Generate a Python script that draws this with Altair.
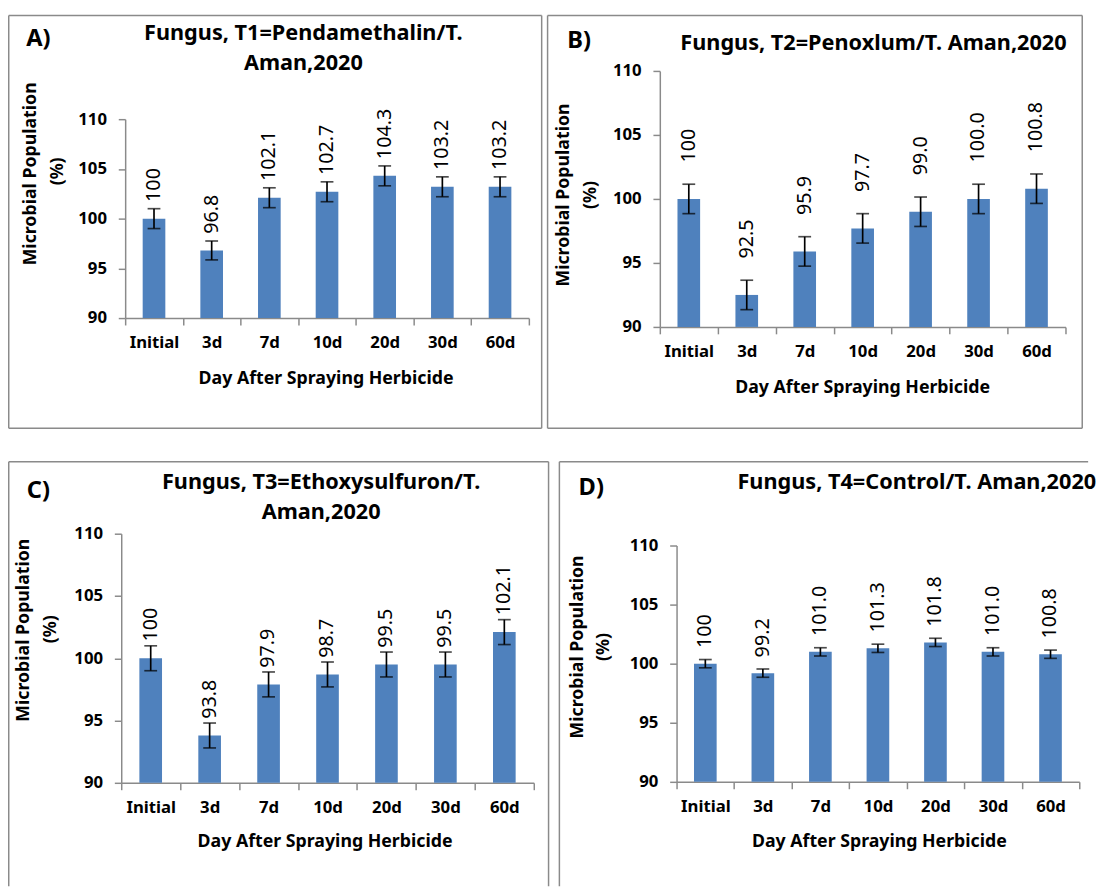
import altair as alt
import pandas as pd

days = ["Initial", "3d", "7d", "10d", "20d", "30d", "60d"]

a_vals = [100, 96.8, 102.1, 102.7, 104.3, 103.2, 103.2]
a_err = [1.0, 0.95, 1.0, 1.0, 1.0, 1.0, 1.0]
a_lbl = ["100", "96.8", "102.1", "102.7", "104.3", "103.2", "103.2"]

b_vals = [100, 92.5, 95.9, 97.7, 99.0, 100.0, 100.8]
b_err = [1.15, 1.15, 1.15, 1.15, 1.15, 1.15, 1.15]
b_lbl = ["100", "92.5", "95.9", "97.7", "99.0", "100.0", "100.8"]

c_vals = [100, 93.8, 97.9, 98.7, 99.5, 99.5, 102.1]
c_err = [1.0, 1.0, 1.0, 1.0, 1.0, 1.0, 1.0]
c_lbl = ["100", "93.8", "97.9", "98.7", "99.5", "99.5", "102.1"]

d_vals = [100, 99.2, 101.0, 101.3, 101.8, 101.0, 100.8]
d_err = [0.35, 0.35, 0.35, 0.35, 0.35, 0.35, 0.35]
d_lbl = ["100", "99.2", "101.0", "101.3", "101.8", "101.0", "100.8"]

titles = {
    "A": ["Fungus, T1=Pendamethalin/T.", "Aman,2020"],
    "B": ["Fungus, T2=Penoxlum/T. Aman,2020"],
    "C": ["Fungus, T3=Ethoxysulfuron/T.", "Aman,2020"],
    "D": ["Fungus, T4=Control/T. Aman,2020"],
}
y_title = ["Microbial Population", "(%)"]
x_title = "Day After Spraying Herbicide"
y_ticks = [90, 95, 100, 105, 110]

FONT = "Noto Sans"
BLUE = "#4F81BD"
GRAY = "#8A8A8A"
W, H = 1097, 885          # whole drawing area
OX, OY = 8, 8             # page offset of the drawing area

TITLE_FS = 22
AXT_FS = 18
TICK_FS = 17
LBL_FS = 20
LET_FS = 24

# layout geometry in page pixels
GEO = {
    "A": dict(px=127, py=114, w=410, h=202, box=(8.75, 550, 8.75, 428), sides="tblr",
              letter=(26.5, 33), tcx=308, tcy=[26.7, 56.7], yt1=(31.8, 169.5), yt2=(59, 167),
              xt=(331, 378), dx=17),
    "B": dict(px=670, py=65, w=412, h=260, box=(556, 1099, 8.75, 428), sides="tblr",
              letter=(576, 35), tcx=887, tcy=[36.7], yt1=(573, 191), yt2=(600, 191),
              xt=(876, 387), dx=37),
    "C": dict(px=123, py=535, w=419, h=253, box=(8.75, 557, 462, 893), sides="tlr",
              letter=(27, 491.7), tcx=326, tcy=[483, 513], yt1=(24, 633), yt2=(52, 632),
              xt=(330, 848), dx=17),
    "D": dict(px=687, py=547, w=409, h=240, box=(568, 1105, 462, 893), sides="tl",
              letter=(587.5, 489), tcx=931, tcy=[482.7], yt1=(587, 650), yt2=(613, 650),
              xt=(893, 848), dx=16),
}


def one(txt):
    return alt.Chart(pd.DataFrame({"t": [txt]}))


def note(txt, x, y, size, weight="bold", angle=0, align="center"):
    kw = dict(font=FONT, fontSize=size, fontWeight=weight, color="black",
              align=align, baseline="middle")
    if angle:
        kw["angle"] = angle
    return one(txt).mark_text(**kw).encode(
        text="t:N", x=alt.value(x - OX), y=alt.value(y - OY))


def box_layers(g):
    x1, x2, y1, y2 = [v - o for v, o in zip(g["box"], (OX, OX, OY, OY))]
    s = g["sides"]
    mk = dict(color=GRAY, strokeWidth=1.5)
    out = []
    if "t" in s:
        out.append(one("t").mark_rule(**mk).encode(x=alt.value(x1), x2=alt.value(x2), y=alt.value(y1)))
    if "b" in s:
        out.append(one("b").mark_rule(**mk).encode(x=alt.value(x1), x2=alt.value(x2), y=alt.value(y2)))
    if "l" in s:
        out.append(one("l").mark_rule(**mk).encode(x=alt.value(x1), y=alt.value(y1), y2=alt.value(y2)))
    if "r" in s:
        out.append(one("r").mark_rule(**mk).encode(x=alt.value(x2), y=alt.value(y1), y2=alt.value(y2)))
    return out


def panel(key, vals, errs, lbls):
    g = GEO[key]
    left = g["px"] - OX
    top = g["py"] - OY
    bottom = top + g["h"]
    df = pd.DataFrame({"day": days, "v": vals, "e": errs, "lbl": lbls})
    xscale = alt.Scale(domain=days, range=[left, left + g["w"]], paddingInner=0, paddingOuter=0)
    yscale = alt.Scale(domain=[90, 110], range=[bottom, top], nice=False, zero=False)
    xenc = alt.X("day:N", sort=days, title=None, scale=xscale,
                 axis=alt.Axis(orient="bottom", offset=bottom - H, labelAngle=0, tickBand="extent",
                               tickSize=7, labelPadding=10,
                               domainColor=GRAY, tickColor=GRAY, domainWidth=1.5, tickWidth=1.5,
                               labelFont=FONT, labelFontSize=TICK_FS, labelFontWeight="bold",
                               labelColor="black"))
    base = alt.Chart(df).transform_calculate(lo="datum.v - datum.e", hi="datum.v + datum.e").encode(x=xenc)
    bars = base.mark_bar(size=23, color=BLUE).encode(
        y=alt.Y("v:Q", scale=yscale, title=None,
                axis=alt.Axis(orient="left", offset=-left, values=y_ticks, grid=False, tickSize=7,
                              labelPadding=12, domainColor=GRAY, tickColor=GRAY,
                              domainWidth=1.5, tickWidth=1.5,
                              labelFont=FONT, labelFontSize=TICK_FS, labelFontWeight="bold",
                              labelColor="black")),
        y2=alt.datum(90))
    rule = base.mark_rule(color="black", strokeWidth=1.7).encode(y=alt.Y("lo:Q", scale=yscale), y2="hi:Q")
    cap_lo = base.mark_tick(color="black", size=13, thickness=1.7).encode(y=alt.Y("lo:Q", scale=yscale))
    cap_hi = base.mark_tick(color="black", size=13, thickness=1.7).encode(y=alt.Y("hi:Q", scale=yscale))
    labels = base.mark_text(angle=270, align="left", baseline="middle", dx=g["dx"],
                            font=FONT, fontSize=LBL_FS, color="black").encode(
        y=alt.Y("v:Q", scale=yscale), text="lbl:N")

    layers = box_layers(g) + [bars, rule, cap_lo, cap_hi, labels]
    layers.append(note(key + ")", g["letter"][0], g["letter"][1], LET_FS, align="left"))
    for line, cy in zip(titles[key], g["tcy"]):
        layers.append(note(line, g["tcx"], cy, TITLE_FS))
    layers.append(note(y_title[0], g["yt1"][0], g["yt1"][1], AXT_FS, angle=270))
    layers.append(note(y_title[1], g["yt2"][0], g["yt2"][1], AXT_FS, angle=270))
    layers.append(note(x_title, g["xt"][0], g["xt"][1], AXT_FS))
    return alt.layer(*layers)


A = panel("A", a_vals, a_err, a_lbl)
B = panel("B", b_vals, b_err, b_lbl)
C = panel("C", c_vals, c_err, c_lbl)
D = panel("D", d_vals, d_err, d_lbl)

chart = alt.layer(A, B, C, D).resolve_scale(x="independent", y="independent").properties(
    width=W, height=H, padding=0, background="white"
).configure_view(stroke=None)

chart.save("out.html", embed_options={"renderer": "svg", "actions": False})
